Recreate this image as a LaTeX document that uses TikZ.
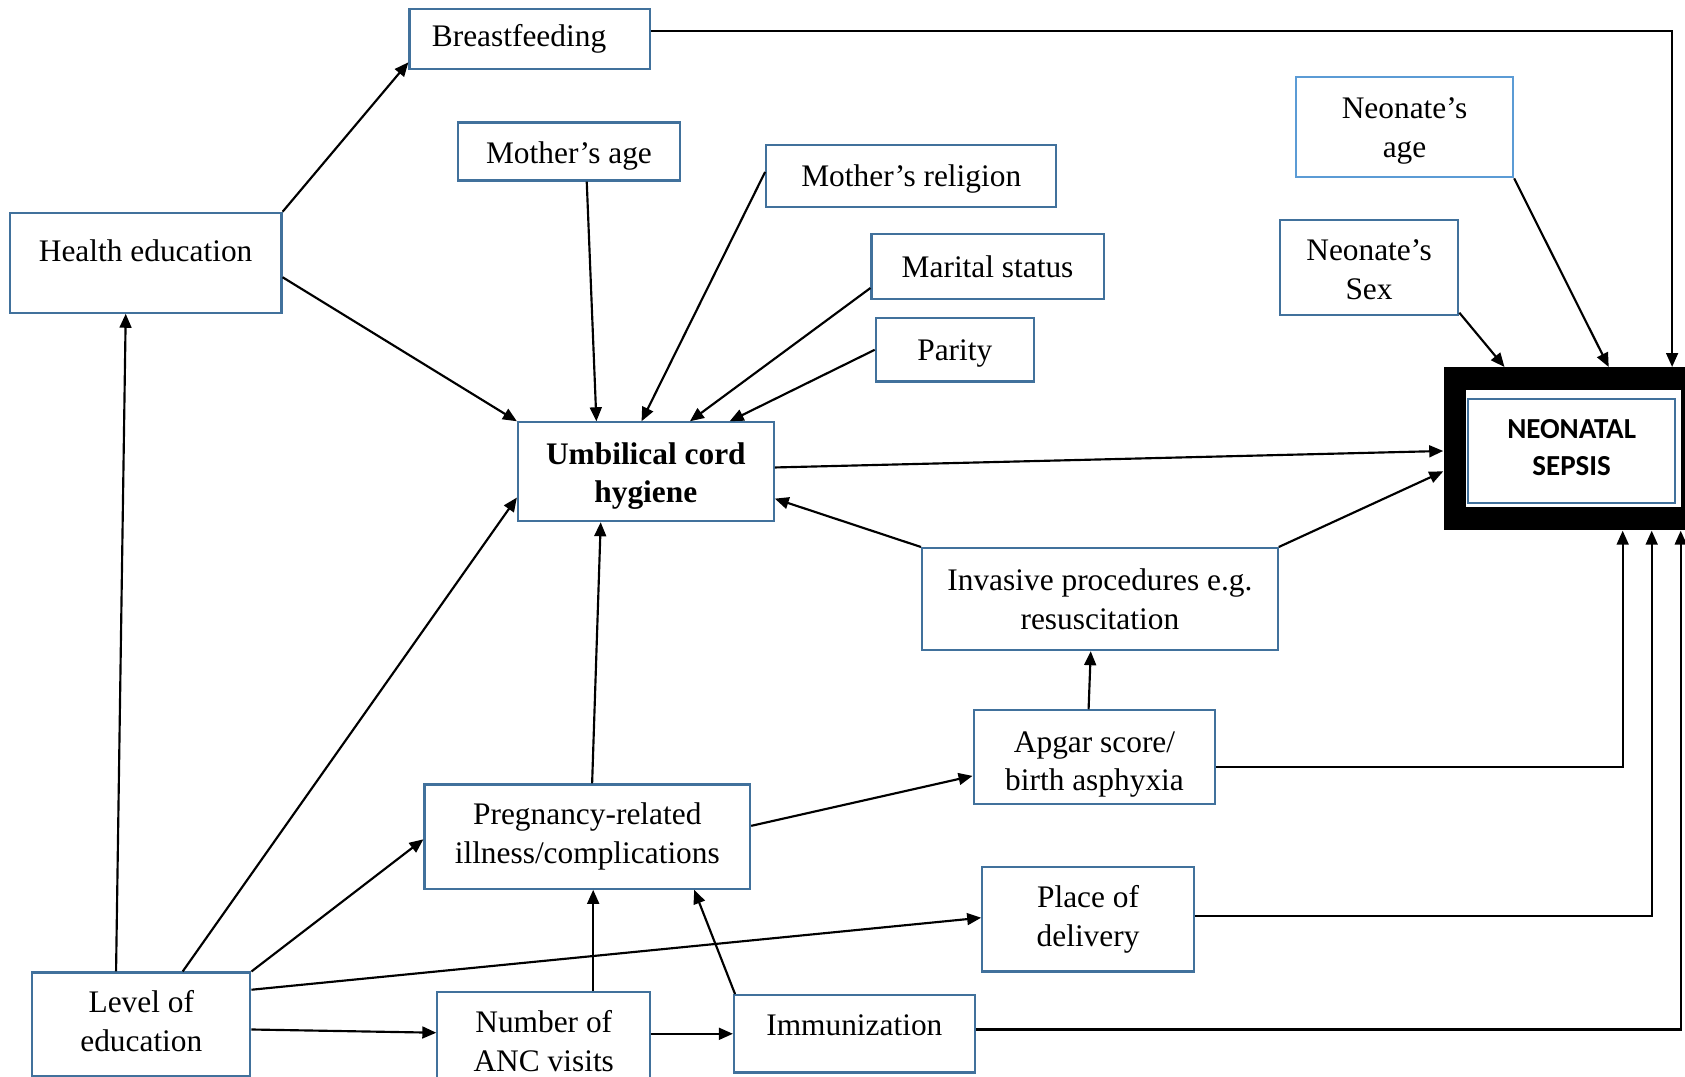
\documentclass[tikz,border=0pt]{standalone}
\usepackage{fontspec}
\setmainfont{Liberation Serif}
\newfontfamily\calib{Carlito}
\usetikzlibrary{arrows.meta}
\definecolor{bx}{HTML}{41719C}
\definecolor{bxl}{HTML}{5B9BD5}
% \up{d}: extra depth (moves text up by d/2); \dn{h}: strut of height h (moves text down)
\newcommand\txup[1]{\rule[-#1]{0pt}{#1}}
\newcommand\txdn[1]{\rule{0pt}{#1}}
\begin{document}
\begin{tikzpicture}[x=0.5pt,y=-0.5pt,
  box/.style={draw=bx,line width=1pt,inner sep=0pt,align=center,fill=white,
    font=\fontsize{14.6}{18}\selectfont},
  arr/.style={line width=1pt,-{Triangle[length=6.5pt,width=5.5pt]}}]
\useasboundingbox (0,0) rectangle (1568,1002);
% nodes
\node[box,minimum width=112pt,minimum height=28pt] (bf) at (493,36) {Breastfeeding\hspace*{10pt}};
\node[box,minimum width=103.5pt,minimum height=27pt] (ma) at (529.5,141) {\txdn{14pt}Mother’s age};
\node[box,minimum width=135pt,minimum height=29pt] (mr) at (848,164) {\txdn{13pt}Mother’s religion};
\node[box,minimum width=108pt,minimum height=30pt] (ms) at (919,248) {Marital status};
\node[box,minimum width=73.5pt,minimum height=29.5pt] (pa) at (888.5,325.5) {\txdn{13pt}Parity};
\node[box,minimum width=126.5pt,minimum height=46.5pt] (he) at (135.5,244.5) {Health education\txup{11pt}};
\node[box,draw=bxl,minimum width=101pt,minimum height=46.5pt] (nag) at (1307,118.5) {\txdn{13pt}Neonate’s\\age};
\node[box,minimum width=83pt,minimum height=44pt] (nsx) at (1274,249) {\txdn{12pt}Neonate’s\\Sex};
\node[box,minimum width=119pt,minimum height=46pt] (uc) at (601,439) {\txdn{14pt}\bfseries Umbilical cord\\\bfseries hygiene};
\node[box,minimum width=165.5pt,minimum height=47.5pt] (inv) at (1023.5,557.5) {Invasive procedures e.g.\\resuscitation};
\node[box,minimum width=112.5pt,minimum height=43.5pt] (ap) at (1018.5,704.5) {\txdn{16.5pt}Apgar score/\\birth asphyxia};
\node[box,minimum width=151.5pt,minimum height=48.5pt] (pr) at (546.5,778.5) {Pregnancy-related\\illness/complications};
\node[box,minimum width=98.5pt,minimum height=48.5pt] (pl) at (1012.5,855.5) {Place of\\delivery};
\node[box,minimum width=101.5pt,minimum height=48pt] (le) at (131.5,953) {Level of\\education\txup{3pt}};
\node[box,minimum width=99pt,minimum height=46pt] (anc) at (506,969) {Number of\\ANC visits};
\node[box,minimum width=112pt,minimum height=36pt] (im) at (795,962) {Immunization\txup{8pt}};
% neonatal sepsis
\node[fill=black,inner sep=0pt,minimum width=128.5pt,minimum height=75.75pt,anchor=north west] (ns) at (1343,341.5) {};
\fill[white] (1364,363) rectangle (1564.5,472);
\node[box,minimum width=96.5pt,minimum height=48.5pt,font=\fontsize{13.5}{17.5}\selectfont\calib\bfseries] (nsi) at (1462.5,419.5) {NEONATAL\\SEPSIS\txup{3pt}};
% connectors
\draw[arr] (he.north east) -- ([yshift=3.5pt]bf.south west);
\draw[arr] ([yshift=3.5pt]bf.east) -| ([xshift=106.5pt]ns.north west);
\draw[arr] ([yshift=17pt]he.south east) -- (uc.north west);
\draw[arr] ([xshift=60.5pt]ma.south west) -- ([xshift=37pt]uc.north west);
\draw[arr] ([yshift=2pt]mr.west) -- ([xshift=-2pt]uc.north);
\draw[arr] ([yshift=5.5pt]ms.south west) -- ([xshift=20.5pt]uc.north);
\draw[arr] (pa.west) -- ([xshift=39pt]uc.north);
\draw[arr] ([yshift=1.5pt]nsx.south east) -- ([xshift=28.5pt]ns.north west);
\draw[arr] (nag.south east) -- ([xshift=77pt]ns.north west);
\draw[arr] ([yshift=2pt]uc.east) -- ([yshift=-1pt]ns.west);
\draw[arr] (inv.north east) -- ([yshift=-10.5pt]ns.west);
\draw[arr] (inv.north west) -- ([yshift=11pt]uc.south east);
\draw[arr] ([xshift=-2.75pt]ap.north) -- ([xshift=-4.25pt]inv.south);
\draw[arr] ([yshift=-4.75pt]ap.east) -| ([xshift=83.5pt]ns.south west);
\draw[arr] ([yshift=1.75pt]pl.east) -| ([xshift=97pt]ns.south west);
\draw[arr] ([yshift=2pt]im.east) -| ([xshift=110.5pt]ns.south west);
\draw[arr] ([yshift=5pt]pr.east) -- ([yshift=-8.75pt]ap.west);
\draw[arr] ([xshift=2.25pt]pr.north) -- ([xshift=-21pt]uc.south);
\draw[arr] ([xshift=-11.75pt]le.north) -- ([xshift=-9.25pt]he.south);
\draw[arr] ([xshift=19.25pt]le.north) -- ([yshift=11.5pt]uc.south west);
\draw[arr] (le.north east) -- ([yshift=-1.25pt]pr.west);
\draw[arr] ([yshift=-8.5pt]le.north east) -- ([yshift=0.75pt]pl.west);
\draw[arr] ([yshift=-2.5pt]le.east) -- ([yshift=4pt]anc.west);
\draw[arr] ([xshift=23pt]anc.north) -- ([xshift=2.75pt]pr.south);
\draw[arr] ([yshift=3.5pt]anc.east) -- (im.west);
\draw[arr] ([xshift=1pt]im.north west) -- ([xshift=-26.5pt]pr.south east);
\end{tikzpicture}
\end{document}
